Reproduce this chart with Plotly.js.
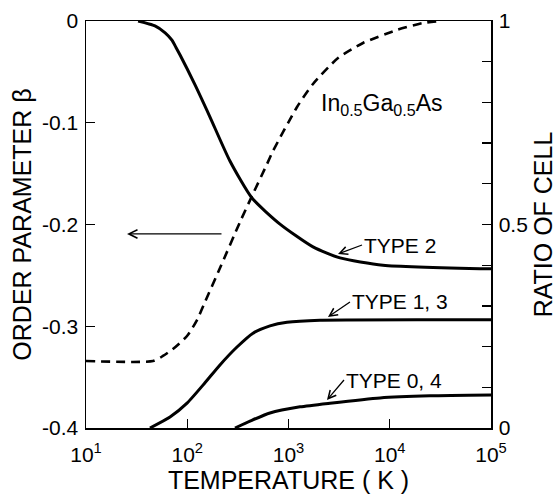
<!DOCTYPE html>
<html>
<head>
<meta charset="utf-8">
<script src="https://cdn.plot.ly/plotly-3.0.1.min.js"></script>
<style>html,body{margin:0;padding:0;background:#fff;}#chart{width:557px;height:497px;}</style>
</head>
<body>
<div id="chart"></div>
<script>
// Order parameter beta (left axis), dashed
const betaT = [10, 45.9, 57.5, 72.2, 99.5, 124.8, 149.6, 210.5, 332, 436, 614, 703, 1214, 1746, 3083, 5445, 11800, 21300, 31300];
const betaV = [-0.3342, -0.3342, -0.3292, -0.3224, -0.3096, -0.2939, -0.2762, -0.2428, -0.1975, -0.1720, -0.1405, -0.1278, -0.0845, -0.0619, -0.0364, -0.0216, -0.0088, -0.0020, 0];

// Ratio of cell (right axis), solid
const type2T = [32.7, 48.0, 60.5, 70.6, 77.4, 84.7, 119.4, 167.8, 264, 436, 824, 1746, 3228, 8570, 100000];
const type2R = [1.0, 0.988, 0.971, 0.953, 0.935, 0.917, 0.843, 0.764, 0.656, 0.565, 0.501, 0.445, 0.418, 0.400, 0.391];

const type13T = [42.8, 67.6, 99.5, 149.6, 210.5, 310, 446, 656, 966, 2048, 100000];
const type13R = [0, 0.027, 0.061, 0.111, 0.155, 0.199, 0.233, 0.251, 0.260, 0.265, 0.266];

const type04T = [296, 417, 656, 1300, 2570, 8020, 25000, 100000];
const type04R = [0, 0.017, 0.037, 0.052, 0.061, 0.074, 0.079, 0.081];

const xTickVals = [10, 100, 1000, 10000, 100000];
const xTickText = ['10<sup>1</sup>', '10<sup>2</sup>', '10<sup>3</sup>', '10<sup>4</sup>', '10<sup>5</sup>'];
const yTickVals = [-0.4, -0.3, -0.2, -0.1, 0];
const yTickText = ['-0.4', '-0.3', '-0.2', '-0.1', '0'];
const y2TickVals = [0, 0.5, 1];
const y2TickText = ['0', '0.5', '1'];

const FONT = 'Liberation Sans, Arial, sans-serif';

const traces = [
  {x: betaT, y: betaV, name: 'β', mode: 'lines', yaxis: 'y',
   line: {color: '#000', width: 2.6, dash: '9px,6px', shape: 'spline', smoothing: 0.6}},
  {x: type2T, y: type2R, name: 'TYPE 2', mode: 'lines', yaxis: 'y2',
   line: {color: '#000', width: 3, shape: 'spline', smoothing: 0.6}},
  {x: type13T, y: type13R, name: 'TYPE 1,3', mode: 'lines', yaxis: 'y2',
   line: {color: '#000', width: 3, shape: 'spline', smoothing: 0.6}},
  {x: type04T, y: type04R, name: 'TYPE 0,4', mode: 'lines', yaxis: 'y2',
   line: {color: '#000', width: 3, shape: 'spline', smoothing: 0.6}}
];

const layout = {
  width: 557, height: 497,
  margin: {l: 86, r: 66, t: 21, b: 69},
  paper_bgcolor: '#fff', plot_bgcolor: '#fff',
  showlegend: false,
  font: {family: FONT, color: '#000', size: 20},
  xaxis: {
    type: 'log', range: [1, 5],
    tickvals: xTickVals, ticktext: xTickText,
    ticks: 'inside', ticklen: 9, tickwidth: 1.3, tickcolor: '#000',
    showline: true, linecolor: '#000', linewidth: 1.5, mirror: true,
    showgrid: false, zeroline: false,
    tickfont: {size: 21}, ticklabelstandoff: 7,
    title: {text: 'TEMPERATURE ( K )', font: {size: 25}, standoff: 7}
  },
  yaxis: {
    range: [-0.4, 0],
    tickvals: yTickVals, ticktext: yTickText,
    ticks: 'inside', ticklen: 9, tickwidth: 1.3, tickcolor: '#000',
    showline: true, linecolor: '#000', linewidth: 1.5,
    showgrid: false, zeroline: false,
    tickfont: {size: 21}, ticklabelstandoff: 2,
    title: {text: 'ORDER PARAMETER β', font: {size: 25}, standoff: 3}
  },
  yaxis2: {
    overlaying: 'y', side: 'right', range: [0, 1],
    tickvals: y2TickVals, ticktext: y2TickText,
    ticks: 'inside', ticklen: 9, tickwidth: 1.3, tickcolor: '#000',
    minor: {tickmode: 'linear', tick0: 0, dtick: 0.1, ticks: 'inside', ticklen: 9, tickwidth: 1.3, tickcolor: '#000', showgrid: false},
    showline: true, linecolor: '#000', linewidth: 1.5,
    showgrid: false, zeroline: false,
    tickfont: {size: 21}, ticklabelstandoff: 2,
    title: {text: 'RATIO OF CELL', font: {size: 25}, standoff: 11}
  },
  annotations: [
    {xref: 'x', yref: 'y2', x: 3.914, y: 0.794, showarrow: false,
     text: 'In<sub>0.5</sub>Ga<sub>0.5</sub>As', font: {size: 23}},
    {xref: 'x', yref: 'y', x: 1.405, y: -0.2093, axref: 'x', ayref: 'y', ax: 2.353, ay: -0.2093,
     text: '', showarrow: true, arrowhead: 5, arrowsize: 1.3, arrowwidth: 1.3, arrowcolor: '#000'},
    {xref: 'x', yref: 'y2', x: 3.489, y: 0.4275, axref: 'x', ayref: 'y2', ax: 3.726, ay: 0.4496,
     xanchor: 'left', yanchor: 'middle', text: 'TYPE 2', font: {size: 21},
     showarrow: true, arrowhead: 5, arrowsize: 1.2, arrowwidth: 1.3, arrowcolor: '#000', standoff: 0},
    {xref: 'x', yref: 'y2', x: 3.390, y: 0.2727, axref: 'x', ayref: 'y2', ax: 3.607, ay: 0.3096,
     xanchor: 'left', yanchor: 'middle', text: 'TYPE 1, 3', font: {size: 21},
     showarrow: true, arrowhead: 5, arrowsize: 1.2, arrowwidth: 1.3, arrowcolor: '#000', standoff: 0},
    {xref: 'x', yref: 'y2', x: 3.380, y: 0.0688, axref: 'x', ayref: 'y2', ax: 3.548, ay: 0.1179,
     xanchor: 'left', yanchor: 'middle', text: 'TYPE 0, 4', font: {size: 21},
     showarrow: true, arrowhead: 5, arrowsize: 1.2, arrowwidth: 1.3, arrowcolor: '#000', standoff: 0}
  ]
};

Plotly.newPlot('chart', traces, layout, {displayModeBar: false, staticPlot: true});
</script>
</body>
</html>
